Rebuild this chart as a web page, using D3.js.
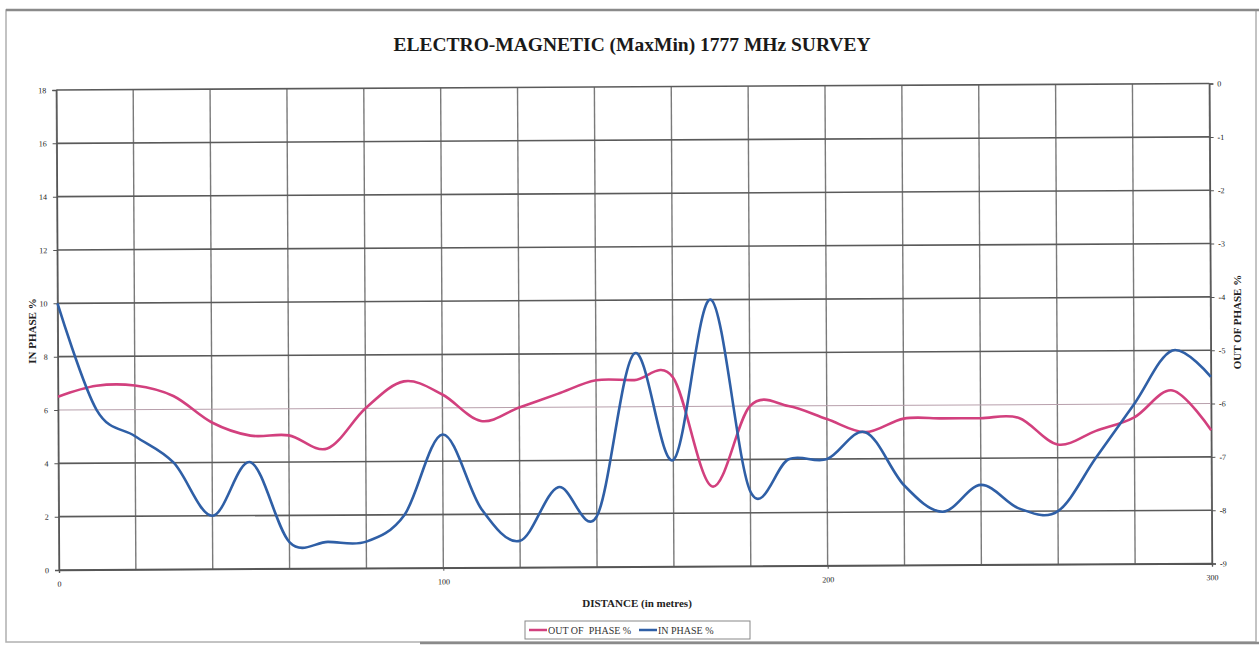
<!DOCTYPE html>
<html>
<head>
<meta charset="utf-8">
<script src="https://cdn.jsdelivr.net/npm/d3@7"></script>
<style>
    body { margin: 0; background: #fff; }
    #chart { width: 1259px; height: 647px; }
    .tick text { font-family: "Liberation Serif", serif; font-size: 8px; fill: #222; }
</style>
</head>
<body>
<div id="chart"></div>
<script>
// distance along the line (m)
const distance = [0, 10, 20, 30, 40, 50, 60, 70, 80, 90, 100, 110, 120, 130, 140, 150,
    160, 170, 180, 190, 200, 210, 220, 230, 240, 250, 260, 270, 280, 290, 300];

// IN PHASE % (left axis)
const inPhase = [10, 6, 5, 4, 2, 4, 1, 1, 1, 2, 5, 2.2, 1, 3, 1.9, 8,
    4, 10, 2.8, 4, 4, 5, 3, 2, 3, 2.1, 2, 4, 6, 8, 7];

// OUT OF PHASE % (right axis)
const outPhase = [-5.75, -5.55, -5.55, -5.75, -6.25, -6.5, -6.5, -6.75, -6, -5.5, -5.75, -6.25, -6, -5.75, -5.5, -5.5,
    -5.45, -7.5, -6, -6, -6.25, -6.5, -6.25, -6.25, -6.25, -6.25, -6.75, -6.5, -6.25, -5.75, -6.5];

const leftTicks = [0, 2, 4, 6, 8, 10, 12, 14, 16, 18];
const rightTicks = [0, -1, -2, -3, -4, -5, -6, -7, -8, -9];
const xLabelTicks = [0, 100, 200, 300];
const xGridTicks = [0, 20, 40, 60, 80, 100, 120, 140, 160, 180, 200, 220, 240, 260, 280, 300];

const w = 1259, h = 647;
const margin = { top: 90, right: 47, bottom: 77, left: 59 };

const svg = d3.select("#chart").append("svg")
    .attr("width", w)
    .attr("height", h);

// scanned page frame
svg.append("rect")
    .attr("x", 6).attr("y", 10)
    .attr("width", 1250).attr("height", 632)
    .attr("fill", "none")
    .attr("stroke", "#b0b0b0")
    .attr("stroke-width", 1.5);
svg.append("line").attr("x1", 6).attr("x2", 1259).attr("y1", 10).attr("y2", 10)
    .attr("stroke", "#8a8a8a").attr("stroke-width", 2.5);
svg.append("line").attr("x1", 420).attr("x2", 1259).attr("y1", 643).attr("y2", 643)
    .attr("stroke", "#8a8a8a").attr("stroke-width", 2.5);

// whole chart is slightly tilted in the scan
const g = svg.append("g")
    .attr("transform", "rotate(-0.32," + margin.left + "," + (h - margin.bottom) + ")");

const x = d3.scaleLinear()
    .domain([0, 300])
    .range([margin.left, w - margin.right]);

const yL = d3.scaleLinear()
    .domain([0, 18])
    .range([h - margin.bottom, margin.top]);

const yR = d3.scaleLinear()
    .domain([-9, 0])
    .range([h - margin.bottom, margin.top]);

// GRID
g.append("g").selectAll("line").data(xGridTicks).enter()
    .append("line")
    .attr("x1", d => x(d)).attr("x2", d => x(d))
    .attr("y1", yL(0)).attr("y2", yL(18))
    .attr("stroke", "#7a7a7a")
    .attr("stroke-width", 1.4);

g.append("g").selectAll("line").data(leftTicks).enter()
    .append("line")
    .attr("x1", x(0)).attr("x2", x(300))
    .attr("y1", d => yL(d)).attr("y2", d => yL(d))
    .attr("stroke", d => d == 6 ? "#b8a0ac" : "#5a5a5a")
    .attr("stroke-width", d => d == 6 ? 1 : 1.6);

// AXES
const xAxis = g.append("g")
    .attr("transform", "translate(0," + yL(0) + ")")
    .call(d3.axisBottom(x).tickValues(xLabelTicks).tickSize(3).tickPadding(8).tickFormat(d3.format("d")));

const leftAxis = g.append("g")
    .attr("transform", "translate(" + x(0) + ",0)")
    .call(d3.axisLeft(yL).tickValues(leftTicks).tickSize(4).tickPadding(6));

const rightAxis = g.append("g")
    .attr("transform", "translate(" + x(300) + ",0)")
    .call(d3.axisRight(yR).tickValues(rightTicks).tickSize(4).tickPadding(4)
        .tickFormat(d => d == 0 ? "0" : "-" + Math.abs(d)));

[xAxis, leftAxis, rightAxis].forEach(a => {
    a.select(".domain").attr("stroke", "#555").attr("stroke-width", 1.4);
    a.selectAll(".tick line").attr("stroke", "#555");
});

// LINES
const lineIn = d3.line()
    .x((d, i) => x(distance[i]))
    .y(d => yL(d))
    .curve(d3.curveCardinal.tension(0));

const lineOut = d3.line()
    .x((d, i) => x(distance[i]))
    .y(d => yR(d))
    .curve(d3.curveCardinal.tension(0));

g.append("path")
    .datum(outPhase)
    .attr("fill", "none")
    .attr("stroke", "#d2407e")
    .attr("stroke-width", 2.6)
    .attr("d", lineOut);

g.append("path")
    .datum(inPhase)
    .attr("fill", "none")
    .attr("stroke", "#2f5fa6")
    .attr("stroke-width", 2.6)
    .attr("d", lineIn);

// TITLES
svg.append("text")
    .text("ELECTRO-MAGNETIC (MaxMin) 1777 MHz SURVEY")
    .attr("x", 632).attr("y", 51)
    .style("text-anchor", "middle")
    .style("font-family", "Liberation Serif, serif")
    .style("font-weight", "bold")
    .style("font-size", "19.5px")
    .style("fill", "#1a1a1a");

svg.append("text")
    .text("IN PHASE %")
    .attr("transform", "translate(36,331) rotate(-90)")
    .style("text-anchor", "middle")
    .style("font-family", "Liberation Serif, serif")
    .style("font-weight", "bold")
    .style("font-size", "11px")
    .style("fill", "#222");

svg.append("text")
    .text("OUT OF PHASE %")
    .attr("transform", "translate(1241,322) rotate(-90)")
    .style("text-anchor", "middle")
    .style("font-family", "Liberation Serif, serif")
    .style("font-weight", "bold")
    .style("font-size", "11px")
    .style("fill", "#222");

svg.append("text")
    .text("DISTANCE (in metres)")
    .attr("x", 637).attr("y", 607)
    .style("text-anchor", "middle")
    .style("font-family", "Liberation Serif, serif")
    .style("font-weight", "bold")
    .style("font-size", "11px")
    .style("fill", "#222");

// LEGEND
const legend = svg.append("g").attr("transform", "translate(525,621)");
legend.append("rect")
    .attr("width", 225).attr("height", 18)
    .attr("fill", "#fff")
    .attr("stroke", "#888")
    .attr("stroke-width", 1);

const legendItems = [
    { name: "OUT OF  PHASE %", color: "#d2407e", x0: 4 },
    { name: "IN PHASE %", color: "#2f5fa6", x0: 114 }
];
legendItems.forEach(d => {
    legend.append("line")
        .attr("x1", d.x0).attr("x2", d.x0 + 18)
        .attr("y1", 9).attr("y2", 9)
        .attr("stroke", d.color)
        .attr("stroke-width", 2.5);
    legend.append("text")
        .text(d.name)
        .attr("x", d.x0 + 19).attr("y", 13)
        .style("font-family", "Liberation Serif, serif")
        .style("font-size", "10px")
        .style("white-space", "pre")
        .style("fill", "#333");
});
</script>
</body>
</html>
